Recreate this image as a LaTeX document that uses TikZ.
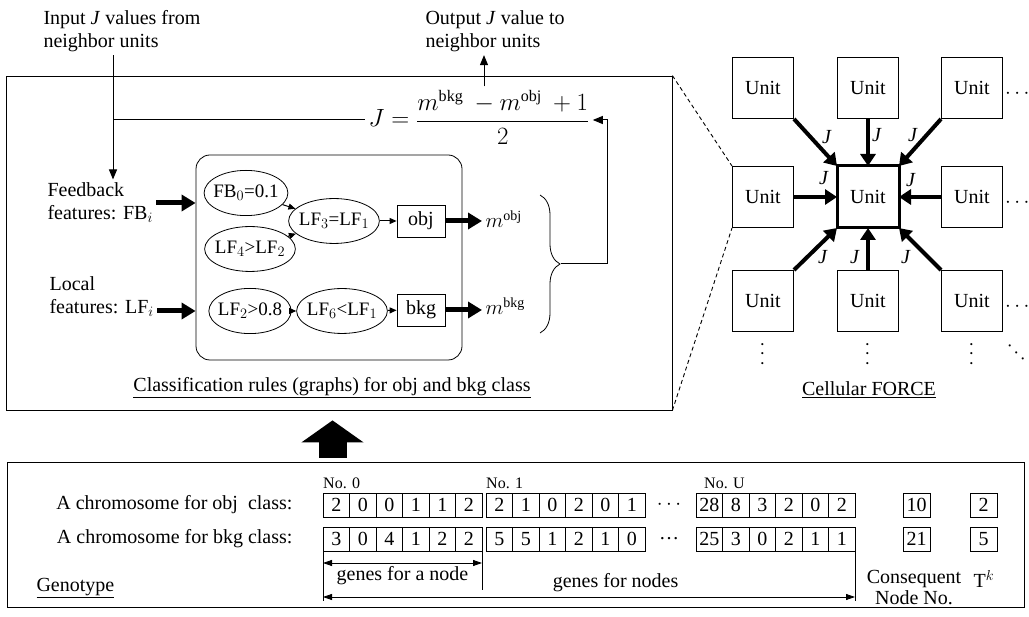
\documentclass[tikz,border=0pt]{standalone}
\usepackage{fontspec}
\setmainfont{Liberation Serif}
\usetikzlibrary{arrows.meta,shapes.geometric,decorations.pathreplacing,positioning}

\tikzset{
  frame/.style={draw, line width=0.8pt, inner sep=0pt},
  unitbox/.style={draw, line width=1pt, minimum width=61pt, minimum height=61pt, inner sep=0pt},
  cell/.style={draw, line width=0.8pt, minimum width=26.5pt, minimum height=24pt, inner sep=0pt, outer sep=0pt},
  rule/.style={draw, ellipse, line width=0.8pt, inner xsep=-3pt, inner ysep=8pt, font=\fontsize{19}{21}\selectfont},
  classbox/.style={draw, line width=0.8pt, minimum width=48pt, minimum height=32pt},
  fat/.style={line width=5pt, -{Triangle[length=14pt,width=16pt]}},
  unitarrow/.style={line width=4pt, -{Triangle[length=12pt,width=15pt]}},
  ruleedge/.style={line width=1pt, -{Triangle[length=7pt,width=6pt]}},
  feed/.style={line width=1pt, -{Triangle[length=10pt,width=8pt]}},
  dimline/.style={line width=0.8pt, {Triangle[length=9pt,width=6pt]}-{Triangle[length=9pt,width=6pt]}},
  nolabel/.style={font=\fontsize{16}{18}\selectfont, inner xsep=0pt, inner ysep=4pt}
}

\begin{document}
\begin{tikzpicture}[x=1pt, y=-1pt, font=\fontsize{20}{23}\selectfont]
  \useasboundingbox (0,0) rectangle (1029,617);

  % Classification rules frame
  \node[frame, minimum width=666pt, minimum height=334pt] (rulesframe) at (339,243) {};
  \node[draw, line width=0.8pt, rounded corners=14pt, minimum width=266pt, minimum height=205pt] (rulebox) at (329,257.5) {};

  % J in / out
  \node[anchor=west, align=left] (intxt) at (40,31) {Input \textit{J} values from\\neighbor units};
  \node[anchor=west, align=left] (outtxt) at (422,31) {Output \textit{J} value to\\neighbor units};
  \node[anchor=base, font=\fontsize{23}{26}\selectfont] (jform) at (479,127) {$\displaystyle J=\frac{m^{\mathrm{bkg}}\ -m^{\mathrm{obj}}\ +1}{2}$};
  \coordinate (injoin) at (113,120);
  \coordinate (fbjoin) at (607,120);
  \coordinate (bracetip) at (561,264);

  \node[anchor=west, align=left] (fbtxt) at (44,203) {Feedback\\features: FB$_i$};
  \node[anchor=west, align=left] (lftxt) at (46,297) {Local\\features: LF$_i$};

  \draw[feed] ([xshift=5pt]jform.north) -- ([xshift=5pt]jform.north |- outtxt.south);
  \draw[line width=1pt] (injoin) -- (injoin -| jform.west);
  \draw[feed] (intxt.south -| injoin) -- (fbtxt.north -| injoin);

  % rule graphs
  \node[rule] (fb0) at (246,193) {FB$_0$=0.1};
  \node[rule] (lf3) at (334,221) {LF$_3$=LF$_1$};
  \node[rule] (lf4) at (250,249) {LF$_4$>LF$_2$};
  \node[rule] (lf2) at (250,311) {LF$_2$>0.8};
  \node[rule] (lf6) at (342,311) {LF$_6$<LF$_1$};
  \node[classbox] (objbox) at (421,221) {obj};
  \node[classbox] (bkgbox) at (421,310) {bkg};
  \node[anchor=west] (mobj) at (482,219) {$m^{\mathrm{obj}}$};
  \node[anchor=west] (mbkg) at (482,306) {$m^{\mathrm{bkg}}$};

  \draw[ruleedge] (fb0) -- (lf3);
  \draw[ruleedge] (lf4) -- (lf3);
  \draw[ruleedge] (lf3) -- (objbox);
  \draw[ruleedge] (lf2) -- (lf6);
  \draw[ruleedge] (lf6) -- (bkgbox);
  \draw[fat] (objbox.east) -- (objbox.east -| mobj.west);
  \draw[fat] (bkgbox.east) -- (bkgbox.east -| mbkg.west);
  \draw[fat] (fbtxt.east) -- (fbtxt.east -| rulebox.west);
  \draw[fat] (lftxt.east |- lf2) -- (lf2 -| rulebox.west);

  % brace back to J
  \draw[line width=0.8pt, decorate, decoration={brace, amplitude=20pt}] (540,195) -- (540,333);
  \draw[feed] (bracetip) -| (fbjoin) -- (fbjoin -| jform.east);

  \node (rulecap) at (332,388) {\underline{Classification rules (graphs) for obj and bkg class}};

  % Cellular FORCE
  \foreach \r/\yy in {1/88,2/197,3/301}
    \foreach \c/\xx in {1/763,2/868,3/972}
      \node[unitbox] (u\r\c) at (\xx,\yy) {Unit};
  \draw[line width=3pt] (u22.south west) rectangle (u22.north east);

  \draw[unitarrow] (u11.south east) -- (u22.north west);
  \draw[unitarrow] (u12.south) -- (u22.north);
  \draw[unitarrow] (u13.south west) -- (u22.north east);
  \draw[unitarrow] (u21.east) -- (u22.west);
  \draw[unitarrow] (u23.west) -- (u22.east);
  \draw[unitarrow] (u31.north east) -- (u22.south west);
  \draw[unitarrow] (u32.north) -- (u22.south);
  \draw[unitarrow] (u33.north west) -- (u22.south east);

  \node (j1) at (827,137) {\textit{J}};
  \node (j2) at (877,135) {\textit{J}};
  \node (j3) at (913,135) {\textit{J}};
  \node (j4) at (824,178) {\textit{J}};
  \node (j5) at (911,180) {\textit{J}};
  \node (j6) at (823,257) {\textit{J}};
  \node (j7) at (855,257) {\textit{J}};
  \node (j8) at (906,257) {\textit{J}};

  \foreach \r in {1,2,3}
    \node[anchor=west, inner xsep=2pt, inner ysep=0pt] (dots\r) at ([yshift=-6pt]u\r3.east) {$\cdots$};
  \foreach \c in {1,2,3}
    \node[rotate=90, inner sep=0pt] (vdots\c) at ([yshift=-22pt]u3\c.south) {$\cdots$};
  \node[rotate=-45, inner sep=0pt] (ddots) at (1016,353) {$\cdots$};

  \node (cellcap) at (869,390) {\underline{Cellular FORCE}};

  \draw[dashed, dash pattern=on 4pt off 3pt, line width=0.9pt] (rulesframe.north east) -- (u21.north west);
  \draw[dashed, dash pattern=on 4pt off 3pt, line width=0.9pt] (rulesframe.south east) -- (u21.south west);

  % Genotype frame
  \node[frame, minimum width=1017pt, minimum height=145pt] (genoframe) at (515.5,534.5) {};
  \draw[line width=28pt, -{Triangle[length=22pt,width=61pt]}, shorten <=4pt, shorten >=10pt]
    (genoframe.north -| 332.5,0) -- (rulesframe.south -| 332.5,0);

  % chromosomes
  \foreach \v [count=\k] in {2,0,0,1,1,2} \node[cell] (obj0-\k) at ({336.25+26.5*(\k-1)},505) {\v};
  \foreach \v [count=\k] in {2,1,0,2,0,1} \node[cell] (obj1-\k) at ({499.25+26.5*(\k-1)},505) {\v};
  \foreach \v [count=\k] in {28,8,3,2,0,2} \node[cell] (objU-\k) at ({709.25+26.5*(\k-1)},505) {\v};
  \foreach \v [count=\k] in {3,0,4,1,2,2} \node[cell] (bkg0-\k) at ({336.25+26.5*(\k-1)},539) {\v};
  \foreach \v [count=\k] in {5,5,1,2,1,0} \node[cell] (bkg1-\k) at ({499.25+26.5*(\k-1)},539) {\v};
  \foreach \v [count=\k] in {25,3,0,2,1,1} \node[cell] (bkgU-\k) at ({709.25+26.5*(\k-1)},539) {\v};

  \node[cell, minimum width=27pt] (objcn) at (916.5,505) {10};
  \node[cell, minimum width=27pt] (bkgcn) at (916.5,539) {21};
  \node[cell, minimum width=27pt] (objtk) at (983.5,505) {2};
  \node[cell, minimum width=27pt] (bkgtk) at (983.5,539) {5};

  \node[left=27pt of obj0-1] (objlab) {A chromosome for obj\ \ class:};
  \node[left=27pt of bkg0-1] (bkglab) {A chromosome for bkg class:};

  \node[nolabel, anchor=south west] (no0) at (obj0-1.north west) {No. 0};
  \node[nolabel, anchor=south west] (no1) at (obj1-1.north west) {No. 1};
  \node[nolabel, anchor=south west] (noU) at ([xshift=8pt]objU-1.north west) {No. U};

  \node (objgap) at (669,505) {$\cdots$};
  \node (bkggap) at (669,539) {\ldots};

  \draw[line width=0.8pt] (bkg0-1.south west) -- ++(0,50);
  \draw[line width=0.8pt] (bkg0-6.south east) -- ++(0,39);
  \draw[line width=0.8pt] (bkgU-6.south east) -- ++(0,50);
  \draw[dimline] ([yshift=-12pt]bkg0-1.south west) -- ([yshift=-12pt]bkg0-6.south east)
    node[midway, below=0pt] (g1lab) {genes for a node};
  \draw[dimline] ([yshift=-46pt]bkg0-1.south west) -- ([yshift=-46pt]bkgU-6.south east)
    node[pos=.55, above=1pt] (g2lab) {genes for nodes};

  \node[align=center, font=\fontsize{20}{21}\selectfont] (cons) at (914,588) {Consequent\\Node No.};
  \node (tk) at (984,579) {T$^k$};
  \node[anchor=west] (geno) at (33,588) {\underline{Genotype}};
\end{tikzpicture}
\end{document}
